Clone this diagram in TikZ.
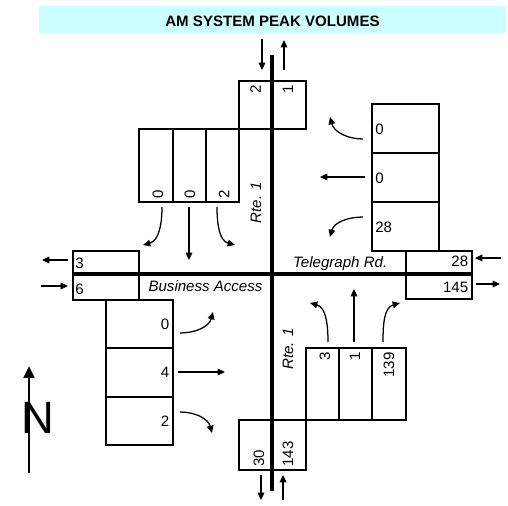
\documentclass[tikz,border=0pt]{standalone}
\usepackage{fontspec}
\setmainfont{Liberation Sans}
\usetikzlibrary{arrows.meta}
\definecolor{titlecyan}{RGB}{204,255,255}
\newcommand{\volsize}{\fontsize{11.3}{13}\selectfont}

\begin{document}
\begin{tikzpicture}[x=0.75pt,y=0.75pt,>={Triangle[length=5.5pt,width=5pt]},font=\volsize,
  box/.style={line width=1.1pt},
  road/.style={line width=3pt},
  mv/.style={->,line width=0.95pt},
  vol/.style={inner sep=0pt},
  rvol/.style={inner sep=0pt,rotate=90}]
  \useasboundingbox (0,0) rectangle (508,-506);
  % title band
  \fill[titlecyan] (39,-6) rectangle (506,-33);
  \node[font=\volsize\bfseries] (title) at (272.5,-21.3) {AM SYSTEM PEAK VOLUMES};
  % north leg (Rte. 1)
  \draw[box] (239,-81) rectangle (306,-129);
  \node[rvol,anchor=east] (nIn) at (255.5,-85) {2};
  \node[rvol,anchor=east] (nOut) at (288,-85) {1};
  \draw[mv] (262,-39) -- (262,-70);
  \draw[mv] (284,-70) -- (284,-40);
  % southbound approach
  \foreach \a/\b/\xc/\v [count=\i] in {139/173/158/0,173/206/190/0,206/239/224/2} {
    \draw[box] (\a,-129) rectangle (\b,-202);
    \node[rvol,anchor=west] (sb\i) at (\xc,-199) {\v};
  }
  \draw[mv] (162,-207) to[out=-90,in=15] (143,-245);
  \draw[mv] (189,-207) -- (189,-260);
  \draw[mv] (217,-207) to[out=-90,in=165] (235,-245);
  % westbound approach
  \foreach \a/\b/\v [count=\i] in {104/153/0,153/202/0,202/251/28} {
    \draw[box] (372,-\a) rectangle (439,-\b);
    \node[vol,anchor=west] (wb\i) at (375,{-(\a+\b)/2-0.5}) {\v};
  }
  \draw[mv] (363,-139) to[out=180,in=-75] (330,-117);
  \draw[mv] (365,-177) -- (320,-177);
  \draw[mv] (363,-217) to[out=180,in=75] (330,-237);
  % east leg (Telegraph Rd.)
  \draw[box] (406,-251) rectangle (472,-299);
  \node[vol,anchor=east] (eIn) at (468.5,-261.7) {28};
  \node[vol,anchor=east] (eOut) at (468.5,-287) {145};
  \draw[mv] (501,-258) -- (475,-258);
  \draw[mv] (476,-284) -- (500,-284);
  % west leg (Business Access)
  \draw[box] (73,-251) rectangle (139,-300);
  \node[vol,anchor=west] (wOut) at (75,-263.3) {3};
  \node[vol,anchor=west] (wIn) at (75,-289.7) {6};
  \draw[mv] (68,-260) -- (42,-260);
  \draw[mv] (41,-286) -- (68,-286);
  % eastbound approach
  \foreach \a/\b/\v [count=\i] in {300/348/0,348/397/4,397/445/2} {
    \draw[box] (106,-\a) rectangle (173,-\b);
    \node[vol,anchor=east] (eb\i) at (169.5,{-(\a+\b)/2}) {\v};
  }
  \draw[mv] (180,-333) to[out=0,in=-105] (213,-312);
  \draw[mv] (178,-372) -- (225,-372);
  \draw[mv] (180,-412) to[out=0,in=105] (212,-433);
  % northbound approach
  \foreach \a/\b/\xc/\v [count=\i] in {306/339/325/3,339/372/355/1,372/406/389/139} {
    \draw[box] (\a,-348) rectangle (\b,-420);
    \node[rvol,anchor=east] (nb\i) at (\xc,-352) {\v};
  }
  \draw[mv] (328,-342) to[out=90,in=-15] (310,-303);
  \draw[mv] (354,-342) -- (354,-289);
  \draw[mv] (383,-342) to[out=90,in=195] (400,-303);
  % south leg
  \draw[box] (239,-420) rectangle (306,-470);
  \node[rvol,anchor=west] (sOut) at (259,-467) {30};
  \node[rvol,anchor=west] (sIn) at (288,-467) {143};
  \draw[mv] (261,-475) -- (261,-500);
  \draw[mv] (283,-500) -- (283,-475);
  % road centre lines
  \draw[road] (272,-55) -- (272,-491);
  \draw[road,line width=2.5pt] (72,-274) -- (472,-274);
  % road names
  \node[rotate=90,font=\volsize\itshape] (rteN) at (256,-202.5) {Rte. 1};
  \node[rotate=90,font=\volsize\itshape] (rteS) at (288,-349) {Rte. 1};
  \node[anchor=base east,inner sep=0pt,font=\volsize\itshape] (tele) at (387.5,-267.7) {Telegraph Rd.};
  \node[anchor=base west,inner sep=0pt,font=\volsize\itshape] (busi) at (148.3,-291.7) {Business Access};
  % north arrow
  \draw[line width=2.2pt,-{Triangle[length=9pt,width=8pt]}] (29,-473) -- (29,-366);
  \node[font=\fontsize{34}{34}\selectfont] (north) at (38.3,-418.3) {N};
\end{tikzpicture}
\end{document}
